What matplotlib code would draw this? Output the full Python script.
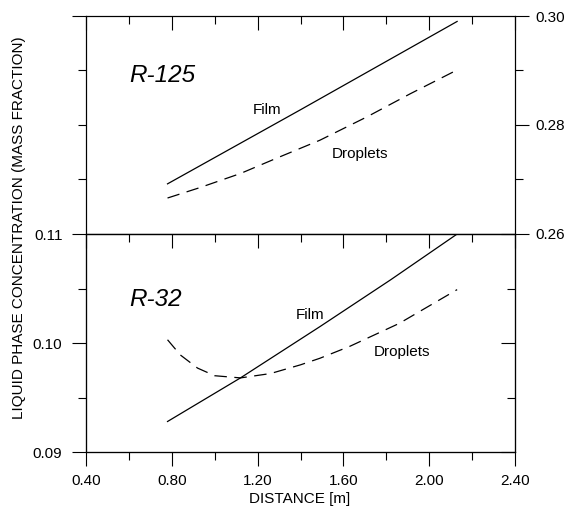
import matplotlib
matplotlib.use("Agg")
import matplotlib.pyplot as plt

plt.rcParams['font.family'] = ['Liberation Sans', 'DejaVu Sans']

# R-125 (top panel, right axis)
r125_film_x = [0.78, 1.40, 2.13]
r125_film_y = [0.2692, 0.2828, 0.2990]
r125_drop_x = [0.78, 0.93, 1.12, 1.30, 1.49, 1.71, 1.91, 2.13]
r125_drop_y = [0.2666, 0.2685, 0.2711, 0.2741, 0.2772, 0.2815, 0.2857, 0.2901]

# R-32 (bottom panel, left axis)
r32_film_x = [0.78, 1.12, 1.49, 1.82, 2.13]
r32_film_y = [0.0928, 0.0968, 0.1015, 0.1058, 0.1100]
r32_drop_x = [0.78, 0.84, 0.92, 1.00, 1.12, 1.26, 1.40, 1.49, 1.63, 1.86, 2.13]
r32_drop_y = [0.1003, 0.0989, 0.0977, 0.0970, 0.0968, 0.0972, 0.0980, 0.0986,
              0.0997, 0.1018, 0.1049]

x_major = [0.40, 0.80, 1.20, 1.60, 2.00, 2.40]
x_minor = [0.60, 1.00, 1.40, 1.80, 2.20]
x_labels = ["0.40", "0.80", "1.20", "1.60", "2.00", "2.40"]
top_major = [0.26, 0.28, 0.30]
top_minor = [0.27, 0.29]
top_labels = ["0.26", "0.28", "0.30"]
bot_major = [0.09, 0.10, 0.11]
bot_minor = [0.095, 0.105]
bot_labels = ["0.09", "0.10", "0.11"]

FS = 11
LW = 0.8
MAJ, MIN = 10, 5.5
DASH = (0, (10, 6))

fig = plt.figure(figsize=(5.8, 5.08), dpi=100)
ax1 = fig.add_axes([0.1483, 0.5394, 0.7397, 0.4291])
ax2 = fig.add_axes([0.1483, 0.1102, 0.7397, 0.4291])

# twins first, since twinx/twiny reset tick sides on the parent
ax1l = ax1.twinx()
ax2r = ax2.twinx()
ax2t = ax2.twiny()

for a in (ax1, ax1l, ax2, ax2r, ax2t):
    a.set_xlim(0.40, 2.40)
    for s in a.spines.values():
        s.set_linewidth(LW)

# ---- top panel ----
ax1.set_ylim(0.26, 0.30)
ax1l.set_ylim(0.26, 0.30)
ax1.plot(r125_film_x, r125_film_y, color='black', lw=0.9)
ax1.plot(r125_drop_x, r125_drop_y, color='black', lw=0.9, linestyle=DASH)

ax1.yaxis.tick_right()
ax1.set_yticks(top_major)
ax1.set_yticklabels(top_labels)
ax1.set_yticks(top_minor, minor=True)
ax1.tick_params(axis='y', which='both', direction='out', width=LW,
                labelsize=FS, pad=4.8, left=False, right=True,
                labelleft=False, labelright=True)
ax1.tick_params(axis='y', which='major', length=MAJ)
ax1.tick_params(axis='y', which='minor', length=MIN)

ax1.xaxis.tick_top()
ax1.set_xticks(x_major)
ax1.set_xticks(x_minor, minor=True)
ax1.tick_params(axis='x', which='both', direction='in', width=LW,
                top=True, bottom=False, labeltop=False, labelbottom=False)
ax1.tick_params(axis='x', which='major', length=MAJ)
ax1.tick_params(axis='x', which='minor', length=MIN)

ax1l.yaxis.tick_left()
ax1l.set_yticks([0.30])
ax1l.set_yticks([0.27, 0.28, 0.29], minor=True)
ax1l.tick_params(axis='y', which='both', direction='out', width=LW,
                 left=True, right=False, labelleft=False, labelright=False)
ax1l.tick_params(axis='y', which='major', length=MAJ)
ax1l.tick_params(axis='y', which='minor', length=MIN)

ax1.text(0.60, 0.2890, "R-125", fontsize=17.5, style='italic', va='center')
ax1.text(1.246, 0.2828, "Film", fontsize=FS, ha='center', va='center')
ax1.text(1.677, 0.2747, "Droplets", fontsize=FS, ha='center', va='center')

# ---- bottom panel ----
ax2.set_ylim(0.09, 0.11)
ax2r.set_ylim(0.09, 0.11)
ax2.plot(r32_film_x, r32_film_y, color='black', lw=0.9)
ax2.plot(r32_drop_x, r32_drop_y, color='black', lw=0.9, linestyle=DASH)

ax2.yaxis.tick_left()
ax2.set_yticks(bot_major)
ax2.set_yticklabels(bot_labels)
ax2.set_yticks(bot_minor, minor=True)
ax2.tick_params(axis='y', which='both', direction='out', width=LW,
                labelsize=FS, pad=7, left=True, right=False)
ax2.tick_params(axis='y', which='major', length=MAJ)
ax2.tick_params(axis='y', which='minor', length=MIN)

ax2.xaxis.tick_bottom()
ax2.set_xticks(x_major)
ax2.set_xticklabels(x_labels)
ax2.set_xticks(x_minor, minor=True)
ax2.tick_params(axis='x', which='both', direction='out', width=LW,
                labelsize=FS, pad=5.8, top=False, bottom=True)
ax2.tick_params(axis='x', which='major', length=MAJ)
ax2.tick_params(axis='x', which='minor', length=MIN)

ax2r.yaxis.tick_right()
ax2r.set_yticks(bot_major)
ax2r.set_yticks(bot_minor, minor=True)
ax2r.tick_params(axis='y', which='both', direction='in', width=LW,
                 left=False, right=True, labelleft=False, labelright=False)
ax2r.tick_params(axis='y', which='major', length=MAJ)
ax2r.tick_params(axis='y', which='minor', length=MIN)

ax2t.xaxis.tick_top()
ax2t.set_xticks(x_major)
ax2t.set_xticks(x_minor, minor=True)
ax2t.tick_params(axis='x', which='both', direction='in', width=LW,
                 top=True, bottom=False, labeltop=False, labelbottom=False)
ax2t.tick_params(axis='x', which='major', length=MAJ)
ax2t.tick_params(axis='x', which='minor', length=MIN)

ax2.text(0.60, 0.1040, "R-32", fontsize=17.5, style='italic', va='center')
ax2.text(1.444, 0.1026, "Film", fontsize=FS, ha='center', va='center')
ax2.text(1.872, 0.0992, "Droplets", fontsize=FS, ha='center', va='center')

fig.text(19 / 580, 1 - 227.5 / 508, "LIQUID PHASE CONCENTRATION (MASS FRACTION)",
         rotation=90, fontsize=FS, ha='center', va='center')
fig.text(300 / 580, 1 - 499 / 508, "DISTANCE [m]", fontsize=FS,
         ha='center', va='center')

fig.savefig("out.png", dpi=100)
